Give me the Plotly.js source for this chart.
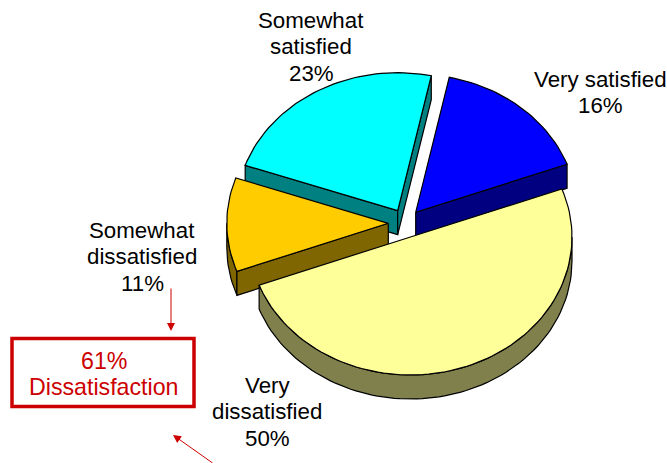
<!DOCTYPE html>
<html>
<head>
<meta charset="utf-8">
<script src="https://cdn.plot.ly/plotly-3.0.1.min.js"></script>
<style>html,body{margin:0;padding:0;background:#fff}#chart{width:667px;height:463px}</style>
</head>
<body>
<div id="chart"></div>
<script>
// Data (clockwise from the blue slice)
var categories = ['Very satisfied', 'Very dissatisfied', 'Somewhat dissatisfied', 'Somewhat satisfied'];
var values = [16, 50, 11, 23];
var labelLines = [['Very satisfied', '16%'], ['Very', 'dissatisfied', '50%'], ['Somewhat', 'dissatisfied', '11%'], ['Somewhat', 'satisfied', '23%']];
var calloutLines = ['61%', 'Dissatisfaction'];

// Styling and geometry, kept apart from the data
var topColors = ['#0000FF', '#FFFF99', '#FFCC00', '#00FFFF'];
var sideColors = ['#000080', '#80804D', '#806600', '#008080'];
var apexX = [415.7, 410.5, 388.3, 397.7];
var apexY = [212.3, 237, 223.3, 210.7];
var labelX = [600, 267, 142, 311];
var labelY = [79, 385, 230, 20];
var drawOrder = [3, 0, 2, 1];
var startAngle = 12, rx = 161.5, ry = 138, depth = 24, lineGap = 26.7;
var RED = '#CC0000', FONT = '"Liberation Sans", Arial, sans-serif';

function pt(cx, cy, deg, dz) {
  var a = deg * Math.PI / 180;
  return [cx + rx * Math.sin(a), cy - ry * Math.cos(a) + (dz || 0)];
}
function poly(points, fill) {
  var xs = points.map(function (p) { return p[0]; });
  var ys = points.map(function (p) { return p[1]; });
  xs.push(xs[0]); ys.push(ys[0]);
  return { type: 'scatter', mode: 'lines', x: xs, y: ys, fill: 'toself', fillcolor: fill,
    line: { color: '#000', width: 1.2 }, hoverinfo: 'skip', showlegend: false };
}
function arc(cx, cy, a0, a1, dz) {
  var out = [], n = Math.max(2, Math.ceil(Math.abs(a1 - a0) / 2));
  for (var i = 0; i <= n; i++) out.push(pt(cx, cy, a0 + (a1 - a0) * i / n, dz));
  return out;
}

var total = values.reduce(function (a, b) { return a + b; }, 0);
var starts = [], acc = startAngle;
values.forEach(function (v) { starts.push(acc); acc += v / total * 360; });

var traces = [];
drawOrder.forEach(function (i) {
  var a0 = starts[i], a1 = a0 + values[i] / total * 360;
  var cx = apexX[i], cy = apexY[i];
  var apex = [cx, cy], apexLow = [cx, cy + depth];
  var side = sideColors[i];
  // outer rim: only the front half of the ellipse is visible
  var r0 = Math.max(a0, 90), r1 = Math.min(a1, 270);
  if (r1 > r0) traces.push(poly(arc(cx, cy, r0, r1, 0).concat(arc(cx, cy, r1, r0, depth)), side));
  // radial walls facing the viewer
  [a0, a1].forEach(function (a) {
    var m = ((a % 360) + 360) % 360;
    var isEnd = a === a1;
    var visible = isEnd ? (m < 180) : (m >= 180);
    if (visible) traces.push(poly([apex, pt(cx, cy, a, 0), pt(cx, cy, a, depth), apexLow], side));
  });
  // top face
  traces.push(poly([apex].concat(arc(cx, cy, a0, a1, 0)), topColors[i]));
});

var annotations = [];
function addLines(lines, x, y, color, size) {
  lines.forEach(function (t, k) {
    annotations.push({ xref: 'x', yref: 'y', x: x, y: y + k * lineGap, text: t, showarrow: false,
      xanchor: 'center', yanchor: 'middle', borderpad: 0, font: { family: FONT, size: size, color: color } });
  });
}
labelLines.forEach(function (lines, i) { addLines(lines, labelX[i], labelY[i], '#000', 22.3); });
addLines(calloutLines, 103.5, 360.5, RED, 23.2);

[[171, 287, 171, 331], [214, 464, 173, 435]].forEach(function (c) {
  annotations.push({ xref: 'x', yref: 'y', axref: 'x', ayref: 'y', ax: c[0], ay: c[1], x: c[2], y: c[3], text: '',
    showarrow: true, arrowhead: 2, arrowsize: 1.6, arrowwidth: 1, arrowcolor: RED });
});

var layout = {
  width: 667, height: 463, margin: { l: 0, r: 0, t: 0, b: 0 },
  paper_bgcolor: '#fff', plot_bgcolor: '#fff', showlegend: false,
  xaxis: { range: [0, 667], visible: false, fixedrange: true },
  yaxis: { range: [463, 0], visible: false, fixedrange: true },
  shapes: [{ type: 'rect', xref: 'x', yref: 'y', x0: 12, x1: 194, y0: 338.5, y1: 406.5,
    line: { color: RED, width: 3.5 }, fillcolor: 'rgba(0,0,0,0)' }],
  annotations: annotations
};
Plotly.newPlot('chart', traces, layout, { displayModeBar: false, staticPlot: true });
</script>
</body>
</html>
